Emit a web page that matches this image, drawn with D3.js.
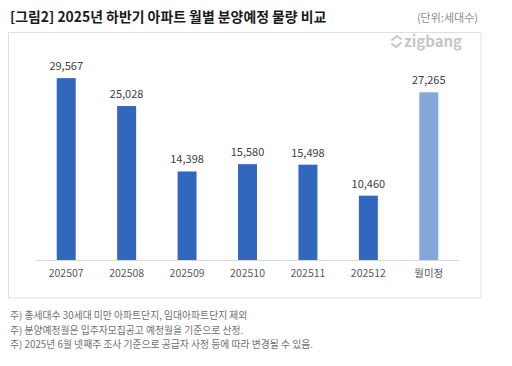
<!DOCTYPE html>
<html>
<head>
<meta charset="utf-8">
<script src="https://cdn.jsdelivr.net/npm/d3@7"></script>
<style>
  body { margin: 0; background: #fff; }
  svg text { font-family: "Noto Sans CJK KR", "Noto Sans", sans-serif; }
</style>
</head>
<body>
<svg id="canvas" width="512" height="366"></svg>
<script>
const categories = ['202507', '202508', '202509', '202510', '202511', '202512', '월미정'];
const values = [29567, 25028, 14398, 15580, 15498, 10460, 27265];
const notes = [
  '주) 총세대수 30세대 미만 아파트단지, 임대아파트단지 제외',
  '주) 분양예정월은 입주자모집공고 예정월을 기준으로 산정.',
  '주) 2025년 6월 넷째주 조사 기준으로 공급자 사정 등에 따라 변경될 수 있음.'
];

const canvas = d3.select('#canvas');

// title + unit
canvas.append('text')
  .attr('x', 10).attr('y', 22)
  .attr('font-size', 13.9).attr('font-weight', 'bold').attr('fill', '#1a1a1a')
  .text('[그림2] 2025년 하반기 아파트 월별 분양예정 물량 비교');

canvas.append('text')
  .attr('x', 478).attr('y', 22)
  .attr('text-anchor', 'end')
  .attr('font-size', 11).attr('fill', '#8c8c8c')
  .text('(단위:세대수)');

// frame
canvas.append('rect')
  .attr('x', 8.5).attr('y', 32.5)
  .attr('width', 472.5).attr('height', 265.5)
  .attr('fill', 'none').attr('stroke', '#e0e0e0');

// zigbang mark
const logo = canvas.append('g').attr('transform', 'translate(391, 42)');
logo.append('path')
  .attr('d', 'M1,-2 L6,-6 L10,-3 M10,1 L5,5 L1,2')
  .attr('fill', 'none').attr('stroke', '#c3c7cc').attr('stroke-width', 2)
  .attr('stroke-linecap', 'round');
logo.append('text')
  .attr('x', 13).attr('y', 5)
  .attr('font-family', 'Inter, sans-serif')
  .attr('font-size', 15).attr('font-weight', 'bold').attr('fill', '#c3c7cc')
  .text('zigbang');

const x = d3.scaleBand()
  .domain(categories)
  .range([36, 459])
  .paddingInner(0.686)
  .paddingOuter(0.343);

const y = d3.scaleLinear()
  .domain([0, 29567 / 0.9375])
  .range([260, 66]);

canvas.selectAll('rect.bar')
  .data(values)
  .enter()
  .append('rect')
  .attr('class', 'bar')
  .attr('x', (d, i) => x(categories[i]))
  .attr('y', (d) => y(d))
  .attr('width', x.bandwidth())
  .attr('height', (d) => y(0) - y(d))
  .attr('fill', (d, i) => i === categories.length - 1 ? '#86a7d9' : '#3168be');

canvas.append('line')
  .attr('x1', 36).attr('x2', 459)
  .attr('y1', 260.5).attr('y2', 260.5)
  .attr('stroke', '#d9d9d9');

canvas.selectAll('text.value')
  .data(values)
  .enter()
  .append('text')
  .attr('class', 'value')
  .attr('x', (d, i) => x(categories[i]) + x.bandwidth() / 2)
  .attr('y', (d) => y(d) - 8)
  .attr('text-anchor', 'middle')
  .attr('font-family', 'Arial, "Liberation Sans", sans-serif')
  .attr('font-size', 11).attr('fill', '#404040')
  .text((d) => d3.format(',')(d));

canvas.selectAll('text.cat')
  .data(categories)
  .enter()
  .append('text')
  .attr('class', 'cat')
  .attr('x', (d) => x(d) + x.bandwidth() / 2)
  .attr('y', 277)
  .attr('text-anchor', 'middle')
  .attr('font-size', 10.5).attr('fill', '#595959')
  .text((d) => d);

canvas.selectAll('text.note')
  .data(notes)
  .enter()
  .append('text')
  .attr('class', 'note')
  .attr('x', 10)
  .attr('y', (d, i) => 319 + i * 14.5)
  .attr('font-size', 9.8).attr('fill', '#707070')
  .text((d) => d);
</script>
</body>
</html>
